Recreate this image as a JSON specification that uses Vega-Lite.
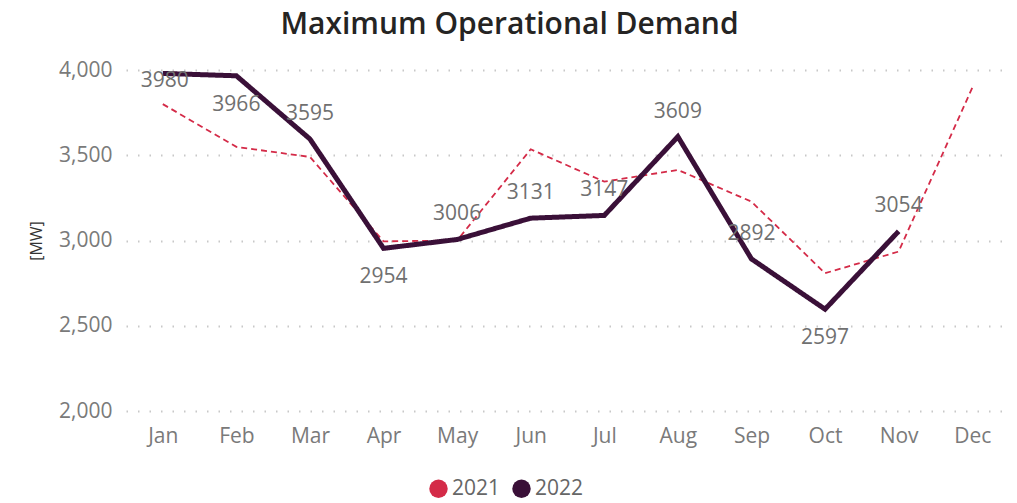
{
  "$schema": "https://vega.github.io/schema/vega-lite/v6.json",
  "width": 883,
  "height": 341,
  "autosize": "none",
  "padding": {"left": 126, "top": 70, "right": 8, "bottom": 92},
  "background": "white",
  "title": {
    "text": "Maximum Operational Demand",
    "font": "Open Sans",
    "fontSize": 30,
    "fontWeight": 600,
    "color": "#252423",
    "anchor": "middle",
    "dx": -58,
    "offset": 19
  },
  "config": {
    "view": {"stroke": null},
    "font": "Open Sans"
  },
  "resolve": {"legend": {"color": "independent"}},
  "data": {
    "values": [
      {"month": "Jan", "year": "2021", "value": 3800},
      {"month": "Feb", "year": "2021", "value": 3549},
      {"month": "Mar", "year": "2021", "value": 3490},
      {"month": "Apr", "year": "2021", "value": 2995},
      {"month": "May", "year": "2021", "value": 3000},
      {"month": "Jun", "year": "2021", "value": 3535},
      {"month": "Jul", "year": "2021", "value": 3345},
      {"month": "Aug", "year": "2021", "value": 3414},
      {"month": "Sep", "year": "2021", "value": 3228},
      {"month": "Oct", "year": "2021", "value": 2808},
      {"month": "Nov", "year": "2021", "value": 2935},
      {"month": "Dec", "year": "2021", "value": 3895},
      {"month": "Jan", "year": "2022", "value": 3980},
      {"month": "Feb", "year": "2022", "value": 3966},
      {"month": "Mar", "year": "2022", "value": 3595},
      {"month": "Apr", "year": "2022", "value": 2954},
      {"month": "May", "year": "2022", "value": 3006},
      {"month": "Jun", "year": "2022", "value": 3131},
      {"month": "Jul", "year": "2022", "value": 3147},
      {"month": "Aug", "year": "2022", "value": 3609},
      {"month": "Sep", "year": "2022", "value": 2892},
      {"month": "Oct", "year": "2022", "value": 2597},
      {"month": "Nov", "year": "2022", "value": 3054}
    ]
  },
  "encoding": {
    "x": {
      "field": "month",
      "type": "ordinal",
      "sort": ["Jan","Feb","Mar","Apr","May","Jun","Jul","Aug","Sep","Oct","Nov","Dec"],
      "scale": {"type": "point", "padding": 0.5},
      "axis": {
        "title": null,
        "labelAngle": 0,
        "labelFontSize": 21,
        "labelColor": "#7a7a7a",
        "labelPadding": 14,
        "domain": false,
        "ticks": false,
        "grid": false
      }
    },
    "y": {
      "field": "value",
      "type": "quantitative",
      "scale": {"domain": [2000, 4000], "nice": false, "zero": false},
      "axis": {
        "title": "[MW]",
        "titleFontSize": 16,
        "titleFontWeight": "normal",
        "titleColor": "#333333",
        "titlePadding": 14,
        "values": [2000, 2500, 3000, 3500, 4000],
        "format": ",d",
        "labelFontSize": 21,
        "labelColor": "#7a7a7a",
        "labelPadding": 14,
        "domain": false,
        "ticks": false,
        "gridDash": [1.5, 10],
        "gridColor": "#c8c8c8",
        "gridWidth": 2
      }
    }
  },
  "layer": [
    {
      "mark": {"type": "line", "strokeJoin": "miter"},
      "encoding": {
        "color": {
          "field": "year",
          "type": "nominal",
          "scale": {"domain": ["2021", "2022"], "range": ["#d42b48", "#3a1038"]},
          "legend": null
        },
        "strokeDash": {
          "field": "year",
          "type": "nominal",
          "scale": {"domain": ["2021", "2022"], "range": [[6, 4], [1, 0]]},
          "legend": null
        },
        "strokeWidth": {
          "field": "year",
          "type": "nominal",
          "scale": {"domain": ["2021", "2022"], "range": [1.8, 5]},
          "legend": null
        }
      }
    },
    {
      "mark": {"type": "point", "filled": true, "opacity": 0, "shape": "circle", "size": 10},
      "encoding": {
        "color": {
          "field": "year",
          "type": "nominal",
          "legend": {
            "title": null,
            "orient": "none",
            "direction": "horizontal",
            "legendX": 302,
            "legendY": 408,
            "symbolType": "circle",
            "symbolSize": 340,
            "symbolOpacity": 1,
            "symbolStrokeWidth": 0,
            "labelFontSize": 21,
            "labelColor": "#666666",
            "labelOffset": 3,
            "columnPadding": 10
          }
        }
      }
    },
    {
      "transform": [{"filter": {"and": [{"field": "year", "equal": "2022"}, {"field": "month", "oneOf": ["Mar","May","Jun","Jul","Aug","Sep","Nov"]}]}}],
      "mark": {"type": "text", "dy": -25, "fontSize": 21, "color": "#707070", "baseline": "middle"},
      "encoding": {"text": {"field": "value", "type": "quantitative", "format": "d"}}
    },
    {
      "transform": [{"filter": {"and": [{"field": "year", "equal": "2022"}, {"field": "month", "oneOf": ["Feb","Apr","Oct"]}]}}],
      "mark": {"type": "text", "dy": 29, "fontSize": 21, "color": "#707070", "baseline": "middle"},
      "encoding": {"text": {"field": "value", "type": "quantitative", "format": "d"}}
    },
    {
      "transform": [{"filter": {"and": [{"field": "year", "equal": "2022"}, {"field": "month", "oneOf": ["Jan"]}]}}],
      "mark": {"type": "text", "dy": 8, "dx": 2, "fontSize": 21, "color": "#707070", "baseline": "middle"},
      "encoding": {"text": {"field": "value", "type": "quantitative", "format": "d"}}
    }
  ]
}
